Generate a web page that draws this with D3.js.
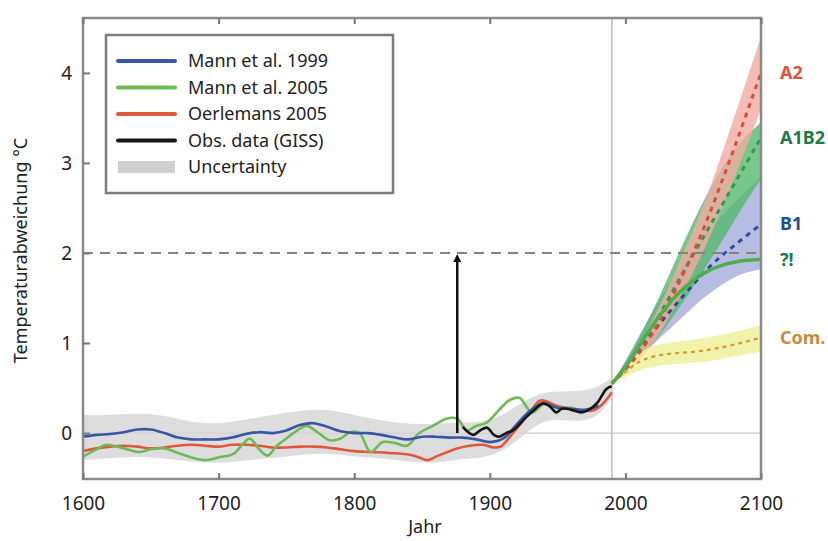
<!DOCTYPE html>
<html>
<head>
<meta charset="utf-8">
<script src="https://cdn.jsdelivr.net/npm/d3@7"></script>
<style>
  body { margin: 0; background: #fff; }
  svg { display: block; font-family: "Noto Sans", sans-serif; }
</style>
</head>
<body>
<svg id="chart" width="828" height="541"></svg>
<script>
// reconstructions [year, anomaly °C]
const mann1999 = [
  [1600,-0.04],[1610,-0.02],[1620,-0.01],[1630,0.01],[1640,0.04],[1650,0.04],[1660,0.0],
  [1670,-0.05],[1680,-0.07],[1690,-0.07],[1700,-0.07],[1710,-0.05],[1720,-0.01],[1730,0.01],
  [1740,0.0],[1750,0.03],[1760,0.09],[1770,0.11],[1780,0.07],[1790,0.02],[1800,0.0],
  [1810,0.0],[1820,-0.02],[1830,-0.05],[1840,-0.07],[1850,-0.04],[1860,-0.04],[1870,-0.05],
  [1880,-0.05],[1890,-0.07],[1900,-0.1],[1910,-0.06],[1920,0.1],[1930,0.25],[1940,0.33],
  [1950,0.28],[1960,0.27],[1970,0.26],[1980,0.3]
];
const mann2005 = [
  [1600,-0.26],[1610,-0.18],[1617,-0.13],[1630,-0.17],[1642,-0.21],[1650,-0.18],[1660,-0.17],
  [1670,-0.22],[1680,-0.27],[1690,-0.3],[1700,-0.27],[1711,-0.23],[1718,-0.12],[1723,-0.06],
  [1730,-0.18],[1736,-0.25],[1743,-0.14],[1750,-0.06],[1758,0.03],[1765,0.08],[1772,0.02],
  [1782,-0.08],[1790,-0.06],[1797,0.01],[1804,0.0],[1812,-0.21],[1821,-0.1],[1830,-0.11],
  [1839,-0.14],[1848,0.0],[1858,0.08],[1868,0.16],[1876,0.16],[1883,0.03],[1890,0.08],
  [1898,0.12],[1907,0.26],[1915,0.37],[1922,0.39],[1931,0.23],[1940,0.32],[1950,0.28],
  [1960,0.28],[1970,0.25],[1980,0.32]
];
const oerlemans2005 = [
  [1600,-0.2],[1610,-0.17],[1620,-0.15],[1630,-0.14],[1640,-0.15],[1650,-0.17],[1660,-0.16],
  [1670,-0.14],[1680,-0.13],[1690,-0.14],[1700,-0.15],[1710,-0.13],[1720,-0.13],[1730,-0.14],
  [1740,-0.16],[1750,-0.16],[1760,-0.15],[1770,-0.15],[1780,-0.16],[1790,-0.18],[1800,-0.2],
  [1812,-0.21],[1825,-0.22],[1841,-0.24],[1848,-0.27],[1854,-0.3],[1862,-0.25],[1876,-0.17],
  [1885,-0.14],[1895,-0.13],[1903,-0.16],[1908,-0.15],[1917,0.0],[1927,0.18],[1937,0.36],
  [1942,0.35],[1950,0.3],[1961,0.27],[1970,0.25],[1976,0.25],[1983,0.32],[1990,0.45]
];
const giss = [
  [1880,0.07],[1885,0.0],[1888,-0.02],[1893,0.03],[1898,0.06],[1903,-0.02],[1907,-0.04],
  [1912,0.0],[1917,0.03],[1922,0.1],[1927,0.18],[1933,0.26],[1939,0.33],[1944,0.3],
  [1949,0.23],[1953,0.27],[1957,0.27],[1962,0.25],[1967,0.23],[1972,0.25],[1976,0.29],
  [1980,0.35],[1986,0.49],[1990,0.52]
];

// uncertainty envelope
const uncYears = [1600,1620,1640,1660,1680,1700,1720,1740,1760,1780,1800,1820,1840,1860,1880,1900,1920,1940,1960,1980,1990];
const uncHigh  = [0.2,0.2,0.22,0.2,0.12,0.1,0.15,0.2,0.25,0.27,0.2,0.14,0.1,0.1,0.12,0.12,0.3,0.48,0.45,0.5,0.62];
const uncLow   = [-0.3,-0.28,-0.26,-0.28,-0.32,-0.34,-0.3,-0.28,-0.24,-0.22,-0.26,-0.28,-0.32,-0.34,-0.28,-0.28,-0.1,0.18,0.12,0.16,0.4];

// scenarios
const scenarioYears = [1990,2000,2010,2020,2030,2040,2050,2060,2070,2080,2090,2100];
const a2Mean   = [0.55,0.7,0.88,1.1,1.38,1.68,2.0,2.35,2.75,3.15,3.58,4.0];
const a2Low    = [0.55,0.65,0.8,0.98,1.22,1.5,1.78,2.1,2.45,2.82,3.2,3.6];
const a2High   = [0.55,0.75,0.98,1.25,1.56,1.9,2.25,2.62,3.05,3.5,3.95,4.4];
const a1b2Mean = [0.55,0.72,0.94,1.18,1.44,1.72,1.98,2.24,2.5,2.76,3.02,3.28];
const a1b2Low  = [0.55,0.65,0.8,0.98,1.18,1.4,1.62,1.86,2.1,2.35,2.6,2.82];
const a1b2High = [0.55,0.78,1.05,1.35,1.68,2.02,2.35,2.65,2.92,3.15,3.32,3.45];
const b1Mean   = [0.55,0.72,0.92,1.12,1.3,1.48,1.65,1.82,1.96,2.08,2.2,2.32];
const b1Low    = [0.55,0.68,0.84,0.98,1.12,1.26,1.4,1.53,1.64,1.73,1.79,1.82];
const b1High   = [0.55,0.8,1.08,1.35,1.6,1.82,2.02,2.22,2.4,2.56,2.7,2.85];
const stabMean = [0.55,0.72,0.97,1.2,1.4,1.57,1.7,1.8,1.86,1.9,1.92,1.93];
const comMean  = [0.55,0.68,0.8,0.85,0.88,0.89,0.9,0.92,0.95,0.98,1.02,1.06];
const comLow   = [0.55,0.62,0.7,0.74,0.76,0.77,0.78,0.79,0.82,0.85,0.88,0.9];
const comHigh  = [0.55,0.75,0.9,0.97,1.0,1.02,1.04,1.06,1.09,1.12,1.16,1.2];

const xTicks = [1600,1700,1800,1900,2000,2100];
const yTicks = [0,1,2,3,4];
const legendLabels = ['Mann et al. 1999','Mann et al. 2005','Oerlemans 2005','Obs. data (GISS)','Uncertainty'];
const scenarioLabels = ['A2','A1B2','B1','?!','Com.'];
const arrowYear = 1876;
const targetLevel = 2;

const svg = d3.select('#chart');
const x = d3.scaleLinear().domain([1600, 2100]).range([83, 761]);
const y = d3.scaleLinear().domain([-0.51, 4.61]).range([479, 18]);

svg.append('defs').append('clipPath').attr('id', 'plot')
  .append('rect').attr('x', 83).attr('y', 18).attr('width', 678).attr('height', 461);

const plot = svg.append('g').attr('clip-path', 'url(#plot)');

// reference lines
plot.append('line')
  .attr('x1', x(1600)).attr('x2', x(2100)).attr('y1', y(0)).attr('y2', y(0))
  .attr('stroke', '#c9c9c9').attr('stroke-width', 1.3);
plot.append('line')
  .attr('x1', x(1990)).attr('x2', x(1990)).attr('y1', y(-0.51)).attr('y2', y(4.61))
  .attr('stroke', '#bdbdbd').attr('stroke-width', 1.5);

// bands
const band = (years, lo, hi) => d3.area()
  .x((d, i) => x(years[i]))
  .y0((d, i) => y(lo[i]))
  .y1((d, i) => y(hi[i]))
  .curve(d3.curveBasis)(years);

plot.append('path').attr('d', band(uncYears, uncLow, uncHigh))
  .attr('fill', '#d4d4d4').attr('opacity', 0.8);
plot.append('path').attr('d', band(scenarioYears, b1Low, b1High))
  .attr('fill', '#aab0de').attr('opacity', 0.85);
plot.append('path').attr('d', band(scenarioYears, a1b2Low, a1b2High))
  .attr('fill', '#55b86f').attr('opacity', 0.8);
plot.append('path').attr('d', band(scenarioYears, a2Low, a2High))
  .attr('fill', '#f3aaa2').attr('opacity', 0.8);
plot.append('path').attr('d', band(scenarioYears, comLow, comHigh))
  .attr('fill', '#eef19c').attr('opacity', 0.85);

// 2 °C level
svg.append('line')
  .attr('x1', x(1600)).attr('x2', x(2100)).attr('y1', y(targetLevel)).attr('y2', y(targetLevel))
  .attr('stroke', '#8c7f78').attr('stroke-width', 2).attr('stroke-dasharray', '10 7');

// historical lines
const histLine = d3.line()
  .x(d => x(d[0]))
  .y(d => y(d[1]))
  .curve(d3.curveCatmullRom);

const series = [
  { data: oerlemans2005, color: '#e0573c' },
  { data: mann2005, color: '#6cbb55' },
  { data: mann1999, color: '#3a55a4' },
  { data: giss, color: '#151515' }
];
series.forEach(s => {
  plot.append('path').attr('d', histLine(s.data))
    .attr('fill', 'none').attr('stroke', s.color)
    .attr('stroke-width', 2.6).attr('stroke-linejoin', 'round');
});

// scenario lines
const scenLine = vals => d3.line()
  .x((d, i) => x(scenarioYears[i]))
  .y(d => y(d))
  .curve(d3.curveBasis)(vals);

plot.append('path').attr('d', scenLine(comMean))
  .attr('fill', 'none').attr('stroke', '#d89a35').attr('stroke-width', 2.2).attr('stroke-dasharray', '4 4');
plot.append('path').attr('d', scenLine(b1Mean))
  .attr('fill', 'none').attr('stroke', '#2d4c9b').attr('stroke-width', 3).attr('stroke-dasharray', '5 5');
plot.append('path').attr('d', scenLine(a1b2Mean))
  .attr('fill', 'none').attr('stroke', '#2e9a52').attr('stroke-width', 3).attr('stroke-dasharray', '5 5');
plot.append('path').attr('d', scenLine(a2Mean))
  .attr('fill', 'none').attr('stroke', '#df4b3a').attr('stroke-width', 3).attr('stroke-dasharray', '5 5');
plot.append('path').attr('d', scenLine(stabMean))
  .attr('fill', 'none').attr('stroke', '#4fae4c').attr('stroke-width', 3.5);

// arrow up to 2 °C
svg.append('defs').append('marker')
  .attr('id', 'head').attr('viewBox', '0 0 10 10').attr('refX', 5).attr('refY', 5)
  .attr('markerWidth', 3.2).attr('markerHeight', 3.2).attr('orient', 'auto')
  .append('path').attr('d', 'M0,0 L10,5 L0,10 z').attr('fill', '#111');
svg.append('line')
  .attr('x1', x(arrowYear)).attr('x2', x(arrowYear))
  .attr('y1', y(0)).attr('y2', y(targetLevel) + 5)
  .attr('stroke', '#111').attr('stroke-width', 2.5).attr('marker-end', 'url(#head)');

// frame and axes
svg.append('rect')
  .attr('x', 83).attr('y', 18).attr('width', 678).attr('height', 461)
  .attr('fill', 'none').attr('stroke', '#8a8a8a').attr('stroke-width', 2.5);

const xAxis = svg.append('g').attr('transform', `translate(0,${y(-0.51)})`)
  .call(d3.axisBottom(x).tickValues(xTicks).tickFormat(d3.format('d'))
    .tickSize(-6).tickSizeOuter(0).tickPadding(18));
const topAxis = svg.append('g').attr('transform', `translate(0,${y(4.61)})`)
  .call(d3.axisTop(x).tickValues(xTicks).tickFormat('').tickSize(-6).tickSizeOuter(0));
const yAxis = svg.append('g').attr('transform', `translate(${x(1600)},0)`)
  .call(d3.axisLeft(y).tickValues(yTicks).tickFormat(d3.format('d'))
    .tickSize(-7).tickSizeOuter(0).tickPadding(11));

[xAxis, topAxis, yAxis].forEach(a => {
  a.select('.domain').remove();
  a.selectAll('.tick line').attr('stroke', '#777').attr('stroke-width', 2);
  a.selectAll('.tick text').attr('fill', '#222').style('font-size', '19px')
    .style('font-family', '"Noto Sans", sans-serif');
});

svg.append('text')
  .attr('transform', `translate(27,${(y(-0.51) + y(4.61)) / 2 + 2}) rotate(-90)`)
  .attr('text-anchor', 'middle').attr('fill', '#222').style('font-size', '18px')
  .text('Temperaturabweichung °C');
svg.append('text')
  .attr('x', 425).attr('y', 533).attr('text-anchor', 'middle')
  .attr('fill', '#222').style('font-size', '18px')
  .text('Jahr');

// legend
const legend = svg.append('g');
legend.append('rect')
  .attr('x', 106).attr('y', 35).attr('width', 287).attr('height', 158)
  .attr('fill', '#fff').attr('stroke', '#7c7c7c').attr('stroke-width', 2.5);
const legendColors = ['#3a55a4', '#6cbb55', '#e0573c', '#151515', '#cfcfcf'];
legendLabels.forEach((label, i) => {
  const ly = 61 + i * 26.5;
  if (i < 4) {
    legend.append('line')
      .attr('x1', 118).attr('x2', 175).attr('y1', ly).attr('y2', ly)
      .attr('stroke', legendColors[i]).attr('stroke-width', 4).attr('stroke-linecap', 'round');
  } else {
    legend.append('rect')
      .attr('x', 118).attr('y', ly - 6).attr('width', 57).attr('height', 12)
      .attr('fill', legendColors[i]);
  }
  legend.append('text')
    .attr('x', 188).attr('y', ly).attr('dy', '0.35em')
    .attr('fill', '#222').style('font-size', '18px')
    .text(label);
});

// scenario labels at the end of each path
const scenarioEnds = [a2Mean, a1b2Mean, b1Mean, stabMean, comMean].map(v => v[v.length - 1]);
const scenarioColors = ['#e4503c', '#1e7a47', '#1f4f8c', '#1e7a47', '#c98a3a'];
svg.selectAll('.scen-label')
  .data(scenarioLabels)
  .enter()
  .append('text')
  .attr('class', 'scen-label')
  .attr('x', 780)
  .attr('y', (d, i) => y(scenarioEnds[i]))
  .attr('dy', '0.35em')
  .attr('fill', (d, i) => scenarioColors[i])
  .style('font-size', '18px').style('font-weight', 'bold')
  .text(d => d);
</script>
</body>
</html>
